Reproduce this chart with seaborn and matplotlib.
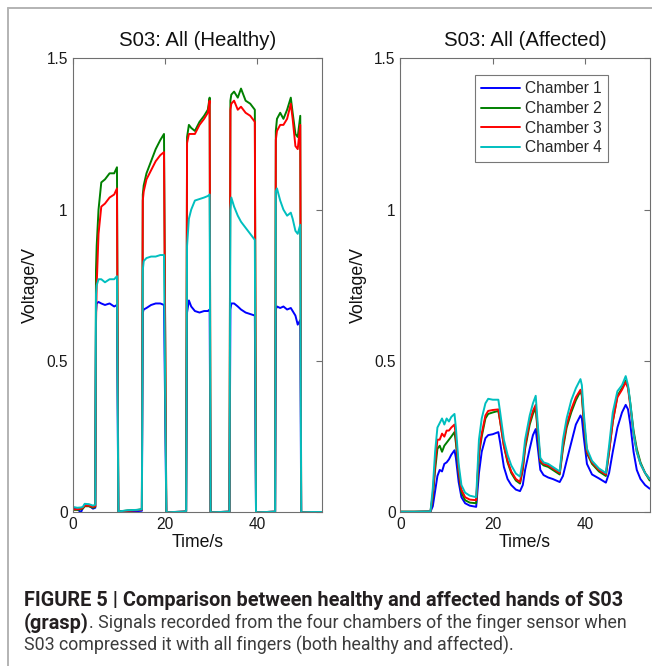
import numpy as np
import pandas as pd
import matplotlib
matplotlib.use("Agg")
import matplotlib.pyplot as plt
import seaborn as sns
from matplotlib import font_manager
from matplotlib.lines import Line2D

# ---------------- data ----------------
CHAMBERS = ["Chamber 1", "Chamber 2", "Chamber 3", "Chamber 4"]
COLORS = ["#0000ff", "#008000", "#ff0000", "#00bfbf"]
TITLES = ["S03: All (Healthy)", "S03: All (Affected)"]
X_TICKS = [0, 20, 40]
Y_TICKS = [0, 0.5, 1, 1.5]
Y_TICK_LABELS = ["0", "0.5", "1", "1.5"]
X_LABEL = "Time/s"
Y_LABEL = "Voltage/V"

HEALTHY_T = [0.0, 1.0, 1.8, 2.2, 2.6, 3.5, 4.4, 4.9,
             5.05, 5.2, 5.6, 6.2, 7.0, 8.0, 9.0, 9.6, 9.9, 10.1,
             12.0, 14.0, 15.0,
             15.2, 15.4, 16.0, 17.0, 18.0, 19.0, 19.8, 20.3, 20.5,
             22.0, 24.0, 24.6,
             24.8, 25.2, 25.7, 26.5, 27.5, 28.5, 29.3, 29.7, 29.9,
             32.0, 34.0,
             34.2, 34.4, 35.0, 35.8, 36.5, 37.5, 38.5, 39.5, 39.75,
             42.0, 43.9,
             44.05, 44.3, 45.0, 45.7, 46.5, 47.3, 47.7, 48.3, 48.8, 49.35, 49.55,
             52.0, 54.0]
HEALTHY_CH1 = [0.012, 0.010, 0.000, 0.015, 0.025, 0.022, 0.012, 0.015,
               0.66, 0.69, 0.695, 0.69, 0.685, 0.69, 0.68, 0.685, 0.0, 0.002,
               0.003, 0.004, 0.005,
               0.66, 0.67, 0.675, 0.685, 0.69, 0.69, 0.685, 0.0, 0.0,
               0.001, 0.002, 0.003,
               0.66, 0.70, 0.68, 0.665, 0.66, 0.665, 0.665, 0.67, 0.0,
               0.001, 0.002,
               0.67, 0.69, 0.69, 0.68, 0.67, 0.66, 0.655, 0.65, 0.0,
               0.001, 0.002,
               0.67, 0.68, 0.675, 0.68, 0.67, 0.675, 0.665, 0.65, 0.62, 0.635, 0.0,
               0.001, 0.001]
HEALTHY_CH2 = [0.008, 0.008, 0.010, 0.012, 0.020, 0.020, 0.015, 0.018,
               0.80, 0.88, 1.00, 1.09, 1.10, 1.12, 1.12, 1.14, 0.0, 0.003,
               0.006, 0.008, 0.010,
               1.05, 1.08, 1.12, 1.16, 1.20, 1.23, 1.25, 0.0, 0.0,
               0.001, 0.002, 0.003,
               1.24, 1.28, 1.27, 1.26, 1.29, 1.31, 1.33, 1.37, 0.0,
               0.001, 0.002,
               1.36, 1.38, 1.39, 1.37, 1.40, 1.36, 1.35, 1.33, 0.0,
               0.001, 0.002,
               1.26, 1.30, 1.32, 1.30, 1.33, 1.37, 1.32, 1.25, 1.24, 1.31, 0.0,
               0.001, 0.001]
HEALTHY_CH3 = [0.010, 0.010, 0.012, 0.015, 0.022, 0.022, 0.018, 0.020,
               0.62, 0.75, 0.92, 1.01, 1.02, 1.04, 1.05, 1.07, 0.0, 0.003,
               0.005, 0.007, 0.009,
               1.03, 1.06, 1.10, 1.13, 1.16, 1.18, 1.19, 0.0, 0.0,
               0.001, 0.002, 0.003,
               1.22, 1.25, 1.25, 1.25, 1.28, 1.30, 1.32, 1.36, 0.0,
               0.001, 0.002,
               1.33, 1.35, 1.36, 1.33, 1.34, 1.32, 1.31, 1.29, 0.0,
               0.001, 0.002,
               1.23, 1.26, 1.28, 1.28, 1.30, 1.35, 1.30, 1.21, 1.20, 1.28, 0.0,
               0.001, 0.001]
HEALTHY_CH4 = [0.018, 0.015, 0.016, 0.018, 0.028, 0.027, 0.022, 0.025,
               0.72, 0.75, 0.77, 0.77, 0.76, 0.77, 0.77, 0.78, 0.0, 0.003,
               0.007, 0.008, 0.010,
               0.80, 0.83, 0.84, 0.845, 0.845, 0.85, 0.85, 0.0, 0.0,
               0.001, 0.002, 0.004,
               0.88, 0.97, 1.00, 1.03, 1.035, 1.04, 1.045, 1.05, 0.0,
               0.001, 0.002,
               1.00, 1.04, 1.01, 0.98, 0.96, 0.94, 0.92, 0.90, 0.0,
               0.001, 0.002,
               1.06, 1.07, 1.03, 1.00, 0.98, 0.99, 0.97, 0.93, 0.92, 0.95, 0.0,
               0.001, 0.001]

AFFECTED_T = [0.0, 3.0, 6.5, 7.0, 7.5, 8.0, 8.5, 9.0, 9.5, 10.0, 10.5, 11.0, 11.7,
              12.0, 12.6, 13.2, 14.0, 15.0, 16.4,
              17.0, 17.6, 18.4, 19.0, 20.0, 21.2, 21.6, 22.4, 23.2, 24.0, 25.0, 25.9,
              26.5, 27.0, 28.0, 28.7, 29.3, 29.7, 30.3, 31.0, 32.0, 33.0, 34.5,
              35.2, 36.0, 37.0, 38.0, 39.0, 39.3, 39.7, 40.4, 41.5, 43.0, 44.5,
              45.2, 46.0, 47.0, 48.0, 48.8, 49.3, 49.8, 50.5, 51.2, 52.0, 53.0, 54.0]
AFFECTED_CH1 = [0.001, 0.001, 0.002, 0.02, 0.07, 0.12, 0.14, 0.135, 0.16, 0.165, 0.175, 0.19, 0.205,
                0.18, 0.10, 0.05, 0.03, 0.022, 0.018,
                0.13, 0.20, 0.245, 0.255, 0.258, 0.265, 0.23, 0.15, 0.11, 0.09, 0.075, 0.07,
                0.09, 0.14, 0.21, 0.255, 0.275, 0.22, 0.14, 0.123, 0.115, 0.11, 0.10,
                0.12, 0.17, 0.23, 0.29, 0.32, 0.31, 0.25, 0.16, 0.125, 0.112, 0.098,
                0.13, 0.20, 0.28, 0.33, 0.355, 0.34, 0.29, 0.20, 0.14, 0.11, 0.09, 0.078]
AFFECTED_CH2 = [0.002, 0.002, 0.003, 0.05, 0.14, 0.21, 0.22, 0.20, 0.22, 0.23, 0.24, 0.25, 0.265,
                0.23, 0.13, 0.065, 0.04, 0.032, 0.03,
                0.19, 0.25, 0.31, 0.325, 0.33, 0.335, 0.30, 0.22, 0.165, 0.13, 0.105, 0.095,
                0.14, 0.21, 0.29, 0.325, 0.345, 0.27, 0.165, 0.155, 0.15, 0.14, 0.125,
                0.21, 0.28, 0.33, 0.37, 0.40, 0.385, 0.30, 0.195, 0.16, 0.135, 0.12,
                0.20, 0.30, 0.385, 0.41, 0.435, 0.415, 0.36, 0.27, 0.21, 0.165, 0.13, 0.105]
AFFECTED_CH3 = [0.002, 0.002, 0.003, 0.06, 0.16, 0.24, 0.24, 0.26, 0.25, 0.27, 0.27, 0.28, 0.29,
                0.25, 0.14, 0.075, 0.05, 0.042, 0.04,
                0.20, 0.26, 0.32, 0.335, 0.338, 0.34, 0.30, 0.22, 0.17, 0.135, 0.11, 0.10,
                0.15, 0.22, 0.30, 0.335, 0.355, 0.28, 0.17, 0.16, 0.155, 0.145, 0.13,
                0.22, 0.29, 0.34, 0.38, 0.405, 0.39, 0.31, 0.20, 0.165, 0.14, 0.125,
                0.20, 0.30, 0.38, 0.405, 0.43, 0.41, 0.35, 0.26, 0.20, 0.16, 0.13, 0.11]
AFFECTED_CH4 = [0.002, 0.002, 0.003, 0.08, 0.20, 0.28, 0.295, 0.31, 0.29, 0.31, 0.30, 0.315, 0.325,
                0.28, 0.16, 0.09, 0.065, 0.055, 0.05,
                0.24, 0.31, 0.36, 0.375, 0.372, 0.372, 0.33, 0.24, 0.19, 0.155, 0.128, 0.118,
                0.17, 0.24, 0.32, 0.36, 0.385, 0.30, 0.18, 0.165, 0.16, 0.15, 0.135,
                0.24, 0.31, 0.37, 0.41, 0.44, 0.42, 0.33, 0.21, 0.17, 0.145, 0.13,
                0.22, 0.33, 0.40, 0.42, 0.45, 0.42, 0.36, 0.26, 0.20, 0.16, 0.13, 0.11]

CAPTION_BOLD_1 = "FIGURE 5 | Comparison between healthy and affected hands of S03"
CAPTION_BOLD_2 = "(grasp)"
CAPTION_REG_2 = ". Signals recorded from the four chambers of the finger sensor when"
CAPTION_REG_3 = "S03 compressed it with all fingers (both healthy and affected)."

# ---------------- build tables ----------------
def build_frame(t, series):
    rows = []
    for name, vals in zip(CHAMBERS, series):
        for ti, vi in zip(t, vals):
            rows.append((ti, vi, name))
    return pd.DataFrame(rows, columns=["time", "voltage", "chamber"])

df_healthy = build_frame(HEALTHY_T, [HEALTHY_CH1, HEALTHY_CH2, HEALTHY_CH3, HEALTHY_CH4])
df_affected = build_frame(AFFECTED_T, [AFFECTED_CH1, AFFECTED_CH2, AFFECTED_CH3, AFFECTED_CH4])

# ---------------- style ----------------
sns.set_style("white")
plt.rcParams["font.family"] = ["Liberation Sans", "DejaVu Sans"]

def has_font(name):
    try:
        font_manager.findfont(font_manager.FontProperties(family=name),
                              fallback_to_default=False)
        return True
    except Exception:
        return False

if has_font("Liberation Sans Narrow"):
    CAP_FONT = ["Liberation Sans Narrow", "DejaVu Sans"]
elif has_font("Roboto"):
    CAP_FONT = ["Roboto", "DejaVu Sans"]
else:
    CAP_FONT = ["Liberation Sans", "DejaVu Sans"]

W, H = 652, 666
fig = plt.figure(figsize=(W / 100, H / 100), dpi=100)
fig.patch.set_facecolor("white")

SPINE = "#6f6f6f"
palette = dict(zip(CHAMBERS, COLORS))

ax1 = fig.add_axes([72.7 / W, (H - 512.3) / H, 249.0 / W, 454.0 / H])
ax2 = fig.add_axes([400.5 / W, (H - 512.3) / H, 249.2 / W, 454.0 / H])

for ax, df, title in [(ax1, df_healthy, TITLES[0]), (ax2, df_affected, TITLES[1])]:
    sns.lineplot(data=df, x="time", y="voltage", hue="chamber", hue_order=CHAMBERS,
                 palette=palette, estimator=None, sort=False, linewidth=1.4,
                 legend=False, ax=ax)
    ax.set_xlim(0, 54)
    ax.set_ylim(0, 1.5)
    ax.set_xticks(X_TICKS)
    ax.set_xticklabels([str(v) for v in X_TICKS])
    ax.set_yticks(Y_TICKS)
    ax.set_yticklabels(Y_TICK_LABELS)
    ax.tick_params(direction="in", length=4, width=0.8, color=SPINE,
                   top=True, right=True, labelsize=11.2, pad=3.5, labelcolor="#1a1a1a")
    for sp in ax.spines.values():
        sp.set_visible(True)
        sp.set_color(SPINE)
        sp.set_linewidth(0.8)
    ax.set_title(title, fontsize=14.7, pad=9, color="#111111")
    ax.set_xlabel(X_LABEL, fontsize=12.7, labelpad=1, color="#111111")
    ax.set_ylabel(Y_LABEL, fontsize=12.8, labelpad=5, color="#111111")
    ax.set_facecolor("white")

handles = [Line2D([], [], color=c, lw=1.4) for c in COLORS]
leg = ax2.legend(handles, CHAMBERS, loc="upper left", bbox_to_anchor=(0.30, 0.963),
                 borderaxespad=0, frameon=True, fancybox=False, edgecolor="#777777",
                 framealpha=1, fontsize=11.2, handlelength=2.5, handletextpad=0.3,
                 labelspacing=0.3, borderpad=0.4)
leg.get_frame().set_linewidth(0.8)

# ---------------- frame decoration ----------------
fig.add_artist(Line2D([8.3 / W, 8.3 / W], [0, 1 - 8.3 / H], transform=fig.transFigure,
                      color="#b3b3b3", lw=1.4))
fig.add_artist(Line2D([8.3 / W, 1], [1 - 8.3 / H, 1 - 8.3 / H], transform=fig.transFigure,
                      color="#b3b3b3", lw=1.4))

# ---------------- caption ----------------
renderer = fig.canvas.get_renderer()
x0 = 24.0 / W
t1 = fig.text(x0, 1 - 606.5 / H, CAPTION_BOLD_1, fontsize=13.5, fontweight="bold",
              family=CAP_FONT, color="#231f20", va="baseline")
w1 = t1.get_window_extent(renderer).width
bold_size = 13.5 * 596.0 / w1
t1.set_fontsize(bold_size)

t3 = fig.text(x0, 1 - 650.5 / H, CAPTION_REG_3, fontsize=13.5, family=CAP_FONT,
              color="#3c3c3c", va="baseline")
w3 = t3.get_window_extent(renderer).width
reg_size = 13.5 * 491.0 / w3
t3.set_fontsize(reg_size)

t2a = fig.text(x0, 1 - 628.5 / H, CAPTION_BOLD_2, fontsize=bold_size, fontweight="bold",
               family=CAP_FONT, color="#231f20", va="baseline")
ext = t2a.get_window_extent(renderer)
fig.text(ext.x1 / W, 1 - 628.5 / H, CAPTION_REG_2, fontsize=reg_size, family=CAP_FONT,
         color="#3c3c3c", va="baseline")

fig.savefig("out.png", dpi=100, facecolor="white")
